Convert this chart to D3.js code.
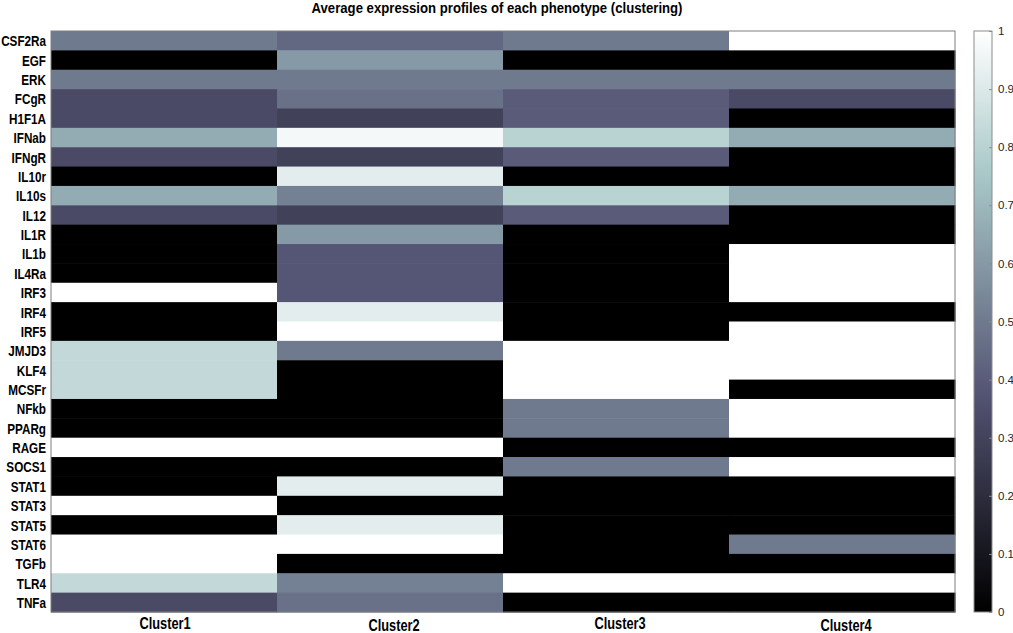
<!DOCTYPE html>
<html>
<head>
<meta charset="utf-8">
<script src="https://cdn.jsdelivr.net/npm/d3@7"></script>
<style>
  html, body { margin: 0; padding: 0; background: #fff; }
  svg { display: block; }
  .narrow { font-family: "Liberation Sans", Arial, sans-serif; font-weight: bold; }
  .cbar { font-family: "Liberation Sans", Arial, sans-serif; }
</style>
</head>
<body>
<svg id="chart" width="1013" height="633"></svg>
<script>
const genes = ["CSF2Ra","EGF","ERK","FCgR","H1F1A","IFNab","IFNgR","IL10r","IL10s","IL12",
  "IL1R","IL1b","IL4Ra","IRF3","IRF4","IRF5","JMJD3","KLF4","MCSFr","NFkb",
  "PPARg","RAGE","SOCS1","STAT1","STAT3","STAT5","STAT6","TGFb","TLR4","TNFa"];
const clusters = ["Cluster1","Cluster2","Cluster3","Cluster4"];
const cluster1 = [0.50,0,0.50,0.33,0.33,0.66,0.33,0,0.66,0.33,
  0,0,0,1,0,0,0.83,0.83,0.83,0,
  0,1,0,0,1,0,1,1,0.83,0.33];
const cluster2 = [0.44,0.60,0.50,0.47,0.29,0.97,0.29,0.92,0.52,0.29,
  0.60,0.38,0.38,0.38,0.92,1,0.50,0,0,0,
  0,1,0,0.92,0,0.92,1,0,0.52,0.47];
const cluster3 = [0.50,0,0.50,0.40,0.40,0.80,0.40,0,0.80,0.40,
  0,0,0,0,0,0,1,1,1,0.50,
  0.50,0,0.50,0,0,0,0,0,1,0];
const cluster4 = [1,0,0.50,0.33,0,0.66,0,0,0.66,0,
  0,1,1,1,0,1,1,1,0,1,
  1,0,1,0,0,0,0.50,0,1,0];
const colorTicks = [0,0.1,0.2,0.3,0.4,0.5,0.6,0.7,0.8,0.9,1];
const chartTitle = "Average expression profiles of each phenotype (clustering)";

// MATLAB "bone" colormap
function bone(x) {
  x = Math.max(0, Math.min(1, x));
  const hr = Math.min(1, x / 0.375);
  const hg = x < 0.375 ? 0 : Math.min(1, (x - 0.375) / 0.375);
  const hb = x < 0.75 ? 0 : (x - 0.75) / 0.25;
  const r = (7 * x + hb) / 8, g = (7 * x + hg) / 8, b = (7 * x + hr) / 8;
  return d3.rgb(r * 255, g * 255, b * 255).formatHex();
}

// horizontally condense text (no narrow font installed)
function condense(sel, factor) {
  sel.each(function () {
    const w = this.getComputedTextLength();
    d3.select(this).attr("textLength", w * factor).attr("lengthAdjust", "spacingAndGlyphs");
  });
}

const seriesByCluster = [cluster1, cluster2, cluster3, cluster4];
const cells = [];
clusters.forEach((c, j) => genes.forEach((g, i) => cells.push({gene: g, cluster: c, v: seriesByCluster[j][i]})));

const svg = d3.select("#chart");
const L = 51, R = 955, T = 31, B = 612;

const x = d3.scaleBand().domain(clusters).range([L, R]).padding(0);
const y = d3.scaleBand().domain(genes).range([T, B]).padding(0);
const color = d3.scaleSequential(bone).domain([0, 1]);

svg.append("g").selectAll("rect").data(cells).join("rect")
  .attr("x", d => x(d.cluster))
  .attr("y", d => y(d.gene))
  .attr("width", x.bandwidth() + 0.5)
  .attr("height", y.bandwidth() + 0.5)
  .attr("fill", d => color(d.v));

// box
svg.append("rect").attr("x", L).attr("y", T).attr("width", R - L).attr("height", B - T)
  .attr("fill", "none").attr("stroke", "#7f7f7f").attr("stroke-width", 1);

// y labels
const yAxis = d3.axisLeft(y).tickSize(0).tickPadding(5);
const gy = svg.append("g").attr("transform", `translate(${L},0)`).call(yAxis);
gy.select(".domain").remove();
gy.selectAll("text").attr("class", "narrow").attr("font-size", 15).attr("fill", "#000").attr("dy", "0.38em");
condense(gy.selectAll("text"), 0.78);

// x labels (alternating vertical offset as in reference)
const xAxis = d3.axisBottom(x).tickSize(0).tickPadding(0);
const gx = svg.append("g").attr("transform", `translate(0,${B})`).call(xAxis);
gx.select(".domain").remove();
gx.selectAll("text").attr("class", "narrow").attr("font-size", 16).attr("fill", "#000")
  .attr("dy", null).attr("y", (d, i) => i % 2 === 0 ? 16.5 : 19)
  .attr("x", (d, i) => i === 0 ? 1 : 4);
condense(gx.selectAll("text"), 0.80);

// title
const title = svg.append("text").attr("class", "narrow").attr("x", 497).attr("y", 13)
  .attr("text-anchor", "middle").attr("font-size", 14.5).attr("fill", "#000").text(chartTitle);
title.attr("textLength", 371).attr("lengthAdjust", "spacingAndGlyphs");

// colorbar
const CL = 974, CW = 18;
const defs = svg.append("defs");
const grad = defs.append("linearGradient").attr("id", "cb").attr("x1", 0).attr("y1", 1).attr("x2", 0).attr("y2", 0);
d3.range(0, 1.0001, 0.02).forEach(t => grad.append("stop").attr("offset", t).attr("stop-color", bone(t)));
const cy = d3.scaleLinear().domain([0, 1]).range([B, T]);
svg.append("rect").attr("x", CL).attr("y", T).attr("width", CW).attr("height", B - T)
  .attr("fill", "url(#cb)").attr("stroke", "#8c8c8c").attr("stroke-width", 1);
const cAxis = d3.axisRight(cy).tickValues(colorTicks).tickSize(3).tickFormat(d3.format("~g"));
const gc = svg.append("g").attr("transform", `translate(${CL + CW - 3},0)`).call(cAxis);
gc.select(".domain").remove();
gc.selectAll("line").attr("stroke", "#8c8c8c");
gc.selectAll("text").attr("class", "cbar").attr("font-size", 11.5).attr("fill", "#262626").attr("x", 9);
</script>
</body>
</html>
